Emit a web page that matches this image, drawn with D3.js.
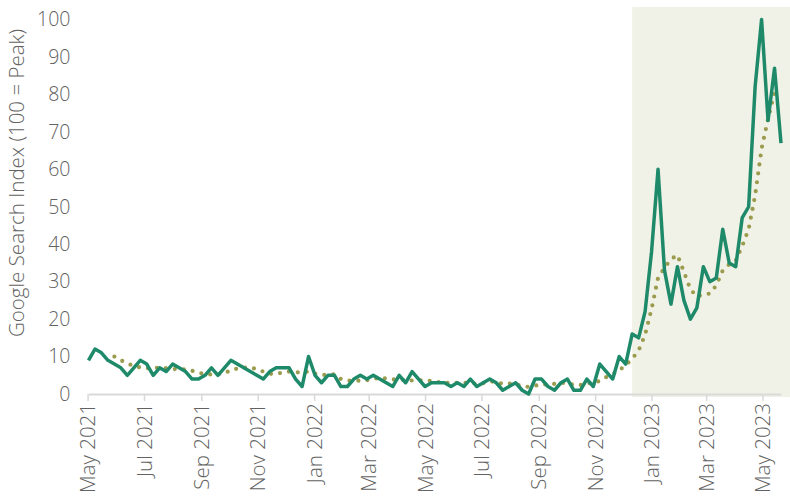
<html>
  <head>
    <meta charset="UTF-8">
    <style>
      body {
        margin: 0;
        font-family: 'Open Sans', 'Noto Sans', sans-serif;
        background: white;
      }
      .axis text {
        fill: #626262;
        font-family: 'Open Sans', 'Noto Sans', sans-serif;
        font-weight: 300;
      }
    </style>
  </head>
  <body>
    <script src="https://cdn.jsdelivr.net/npm/d3@7"></script>
    <svg id="chart" width="790" height="500"></svg>

    <script>
      /* weekly google search index, first week 2021-05-02 */
      var firstWeek = "2021-05-02";
      var searchIndex = [
        9, 12, 11, 9, 8, 7, 5, 7, 9, 8,
        5, 7, 6, 8, 7, 6, 4, 4, 5, 7,
        5, 7, 9, 8, 7, 6, 5, 4, 6, 7,
        7, 7, 4, 2, 10, 5, 3, 5, 5, 2,
        2, 4, 5, 4, 5, 4, 3, 2, 5, 3,
        6, 4, 2, 3, 3, 3, 2, 3, 2, 4,
        2, 3, 4, 3, 1, 2, 3, 1, 0, 4,
        4, 2, 1, 3, 4, 1, 1, 4, 2, 8,
        6, 4, 10, 8, 16, 15, 22, 38, 60, 33,
        24, 34, 25, 20, 23, 34, 30, 31, 44, 35,
        34, 47, 50, 82, 100, 73, 87, 67
      ];
      /* dotted trend, starts at week 4 */
      var trendStart = 4;
      var trendIndex = [
        10, 9, 8.2, 7.4, 7.1, 6.9, 6.9, 7.1, 6.9, 6.7,
        6.6, 6.6, 6.2, 5.7, 5.3, 5.2, 5.3, 5.5, 6.4, 6.8,
        7, 7.1, 6.6, 6, 5.4, 5.4, 5.7, 6, 5.8, 5.8,
        6, 5.4, 5.1, 5.1, 5.3, 4, 3.6, 3.5, 3.6, 3.7,
        3.9, 4.5, 4.1, 3.9, 3.9, 3.7, 3.6, 3.7, 3.6, 3.5,
        3.2, 2.9, 3, 3, 3, 2.8, 2.8, 2.9, 3.4, 3.2,
        2.7, 2.8, 2.6, 2.1, 1.9, 2.2, 2.6, 2.5, 2.7, 3,
        2.9, 2.4, 2.4, 2.9, 2.9, 3.5, 4.5, 5.3, 6.3, 7.7,
        9.4, 11.6, 15.8, 22.7, 31, 33.7, 36, 37.1, 32.6, 28,
        26, 26.6, 26.8, 29, 33, 34.6, 35.6, 39.5, 44, 53,
        65.5, 73.5, 80.5
      ];
      var tickDates = ["2021-05-01", "2021-07-01", "2021-09-01", "2021-11-01", "2022-01-01",
        "2022-03-01", "2022-05-01", "2022-07-01", "2022-09-01", "2022-11-01",
        "2023-01-01", "2023-03-01", "2023-05-01"];
      var yTicks = [0, 10, 20, 30, 40, 50, 60, 70, 80, 90, 100];
      var shadeStart = "2022-12-11";

      var parseTime = d3.timeParse("%Y-%m-%d");
      var start = parseTime(firstWeek);
      function weekDate(i) { return d3.timeDay.offset(start, 7 * i); }

      var svg = d3.select("#chart");
      var x = d3.scaleTime()
            .domain([start, weekDate(searchIndex.length - 1)])
            .range([88.5, 781]),
          y = d3.scaleLinear().domain([0, 100]).range([394, 19.5]);

      /* highlighted period */
      svg.append("rect")
        .attr("x", x(parseTime(shadeStart)))
        .attr("y", 7)
        .attr("width", 790 - x(parseTime(shadeStart)))
        .attr("height", 390)
        .style("fill", "#f1f2e7");

      /* x axis */
      var gx = svg.append("g")
        .attr("class", "axis")
        .attr("transform", "translate(0,394)")
        .call(d3.axisBottom(x)
          .tickValues(tickDates.map(parseTime))
          .tickFormat(d3.timeFormat("%b %Y"))
          .tickSize(7)
          .tickSizeOuter(0));
      gx.select(".domain").attr("stroke", "#d9d9d9").attr("stroke-width", 2);
      gx.selectAll(".tick line").attr("stroke", "#d9d9d9").attr("stroke-width", 1.5);
      gx.selectAll(".tick text")
        .attr("transform", "rotate(-90)")
        .attr("x", -9)
        .attr("y", 0)
        .attr("dy", "0.35em")
        .style("text-anchor", "end")
        .style("font-size", "20.5px");

      /* y axis */
      var gy = svg.append("g")
        .attr("class", "axis")
        .attr("transform", "translate(88.5,0)")
        .call(d3.axisLeft(y).tickValues(yTicks).tickSize(0).tickPadding(18));
      gy.select(".domain").remove();
      gy.selectAll(".tick text").style("font-size", "19.5px");

      svg.append("text")
        .attr("transform", "translate(24,183) rotate(-90)")
        .style("text-anchor", "middle")
        .style("font-size", "20.5px")
        .style("font-weight", 300)
        .style("fill", "#626262")
        .text("Google Search Index (100 = Peak)");

      /* lines */
      var line = d3.line()
        .x(function(d) { return x(d.date); })
        .y(function(d) { return y(d.value); });

      var trendData = trendIndex.map(function(v, i) {
        return {date: weekDate(i + trendStart), value: v};
      });
      var searchData = searchIndex.map(function(v, i) {
        return {date: weekDate(i), value: v};
      });

      svg.append("path")
        .datum(trendData)
        .attr("fill", "none")
        .attr("stroke", "#9b9b4e")
        .attr("stroke-width", 4.2)
        .attr("stroke-linecap", "round")
        .attr("stroke-dasharray", "0 9")
        .attr("d", line);

      svg.append("path")
        .datum(searchData)
        .attr("fill", "none")
        .attr("stroke", "#1e8a6a")
        .attr("stroke-width", 3.5)
        .attr("stroke-linejoin", "round")
        .attr("d", line);
    </script>
  </body>
</html>
